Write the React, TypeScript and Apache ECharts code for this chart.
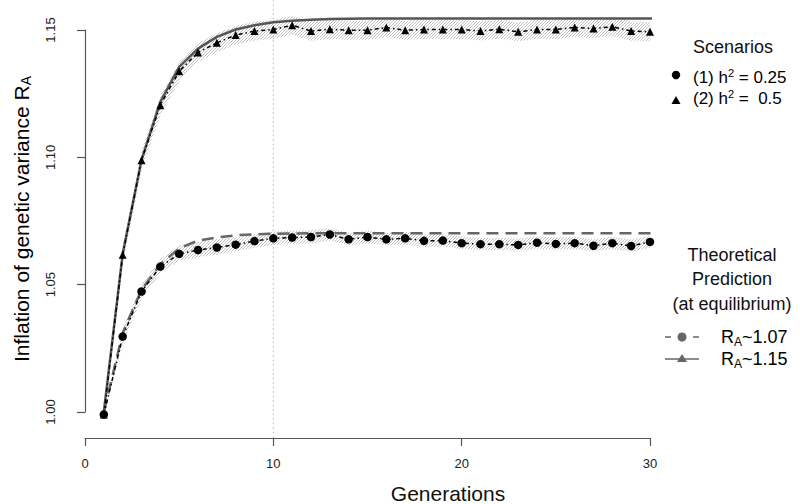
import React, { useEffect, useRef } from 'react';
import * as echarts from 'echarts';

const generations = [1, 2, 3, 4, 5, 6, 7, 8, 9, 10, 11, 12, 13, 14, 15, 16, 17, 18, 19, 20, 21, 22, 23, 24, 25, 26, 27, 28, 29, 30];
const theoryGenerations = [1, 2, 3, 4, 5, 6, 7, 8, 9, 10, 11, 12, 13, 14, 15, 16, 17, 18, 19, 20, 21, 22, 23, 24, 25, 26, 27, 28, 29, 30, 31];

// Scenario (1) h2 = 0.25 (circles)
const scen1Mean = [0.999, 1.0296, 1.0473, 1.0571, 1.0621, 1.0636, 1.0646, 1.0657, 1.0671, 1.0682, 1.0685, 1.0687, 1.0697, 1.0678, 1.0687, 1.0678, 1.0682, 1.0672, 1.0673, 1.0663, 1.0659, 1.0659, 1.0656, 1.0665, 1.066, 1.0663, 1.0653, 1.0663, 1.0652, 1.0668];
const scen1Low = [0.999, 1.027, 1.0448, 1.0545, 1.0595, 1.0608, 1.0618, 1.063, 1.0645, 1.0656, 1.066, 1.0662, 1.0672, 1.0655, 1.0662, 1.0655, 1.0658, 1.0648, 1.065, 1.064, 1.0636, 1.0636, 1.0633, 1.0642, 1.0637, 1.064, 1.063, 1.064, 1.0629, 1.0645];
const scen1High = [0.999, 1.0325, 1.0502, 1.0602, 1.0655, 1.0668, 1.0678, 1.0687, 1.0699, 1.0709, 1.0712, 1.0714, 1.0722, 1.0703, 1.0712, 1.0703, 1.0707, 1.0697, 1.0698, 1.0688, 1.0684, 1.0684, 1.0681, 1.069, 1.0685, 1.0688, 1.0678, 1.0688, 1.0677, 1.0692];

// Scenario (2) h2 = 0.5 (triangles)
const scen2Mean = [0.999, 1.0617, 1.0989, 1.1205, 1.1338, 1.1412, 1.145, 1.148, 1.1496, 1.1502, 1.1519, 1.1496, 1.1503, 1.1499, 1.1499, 1.151, 1.1499, 1.1502, 1.1502, 1.1502, 1.1496, 1.1503, 1.1493, 1.1502, 1.1502, 1.151, 1.1506, 1.1513, 1.1496, 1.1493];
const scen2Low = [0.999, 1.058, 1.0953, 1.1168, 1.13, 1.1375, 1.1413, 1.1443, 1.1459, 1.1465, 1.1482, 1.1457, 1.1466, 1.1462, 1.1462, 1.1473, 1.1462, 1.1465, 1.1465, 1.1465, 1.1459, 1.1466, 1.1456, 1.1465, 1.1465, 1.1473, 1.1469, 1.1476, 1.1459, 1.1456];
const scen2High = [0.999, 1.0654, 1.1026, 1.1242, 1.1375, 1.1449, 1.1487, 1.1517, 1.1533, 1.1539, 1.1556, 1.1533, 1.154, 1.1536, 1.1536, 1.1547, 1.1536, 1.1539, 1.1539, 1.1539, 1.1533, 1.154, 1.153, 1.1539, 1.1539, 1.1547, 1.1543, 1.155, 1.1533, 1.153];

// Theoretical predictions
const theory1 = [1.0, 1.031, 1.048, 1.058, 1.0643, 1.0673, 1.0685, 1.0694, 1.0698, 1.07, 1.0701, 1.0702, 1.0702, 1.0702, 1.0702, 1.0702, 1.0702, 1.0702, 1.0702, 1.0702, 1.0702, 1.0702, 1.0702, 1.0702, 1.0702, 1.0702, 1.0702, 1.0702, 1.0702, 1.0702, 1.0702];
const theory2 = [1.0, 1.062, 1.099, 1.1218, 1.1355, 1.1427, 1.1473, 1.1502, 1.1519, 1.153, 1.1536, 1.154, 1.1543, 1.1544, 1.1545, 1.1545, 1.1545, 1.1545, 1.1545, 1.1545, 1.1545, 1.1545, 1.1545, 1.1545, 1.1545, 1.1545, 1.1545, 1.1545, 1.1545, 1.1545, 1.1545];

const refLineX = [10, 10];
const refLineY = [0.9899, 1.1617];

const xTicks = { min: 0, max: 30, interval: 10 };
const yTicks = { min: 1.0, max: 1.15, interval: 0.05 };

const FONT = '"Liberation Sans", Arial, Helvetica, sans-serif';

export default function App() {
  const ref = useRef<HTMLDivElement>(null);
  useEffect(() => {
    if (!ref.current) return;
    const chart = echarts.init(ref.current, null, { renderer: 'svg' });

    const canvas = document.createElement('canvas');
    canvas.width = 3;
    canvas.height = 3;
    const ctx = canvas.getContext('2d');
    if (ctx) {
      ctx.fillStyle = 'rgba(255,255,255,0)';
      ctx.fillRect(0, 0, 3, 3);
      ctx.fillStyle = '#c2c2c2';
      // diagonal "/" hatch, one pixel per row
      ctx.fillRect(2, 0, 1, 1);
      ctx.fillRect(1, 1, 1, 1);
      ctx.fillRect(0, 2, 1, 1);
    }
    const hatch: any = { image: canvas, repeat: 'repeat' };

    const pair = (xs: number[], ys: number[]) => xs.map((x, i) => [x, ys[i]]);

    const bandSeries = (lo: number[], hi: number[]) => ({
      type: 'custom',
      data: generations.map((g, i) => [g, lo[i], hi[i]]),
      clip: false,
      silent: true,
      z: 1,
      renderItem: (params: any, api: any) => {
        const i = params.dataIndex;
        if (i >= generations.length - 1) return null;
        const a = api.coord([generations[i], lo[i]]);
        const b = api.coord([generations[i + 1], lo[i + 1]]);
        const c = api.coord([generations[i + 1], hi[i + 1]]);
        const d = api.coord([generations[i], hi[i]]);
        return {
          type: 'polygon',
          shape: { points: [a, [b[0] + 0.4, b[1]], [c[0] + 0.4, c[1]], d] },
          style: { fill: hatch, stroke: null },
        };
      },
    });

    const sub = (fs: number) => ({ fontSize: fs, fontFamily: FONT, color: '#111', verticalAlign: 'bottom' });

    chart.setOption({
      animation: false,
      backgroundColor: '#ffffff',
      grid: { left: 85, top: 30, width: 565, height: 382, containLabel: false },
      xAxis: {
        type: 'value', ...xTicks, offset: 26,
        axisLine: { show: true, lineStyle: { color: '#555', width: 1.2 } },
        axisTick: { show: true, length: 8, lineStyle: { color: '#555', width: 1.2 } },
        axisLabel: { fontSize: 13, color: '#222', fontFamily: FONT, margin: 19 },
        splitLine: { show: false },
      },
      yAxis: {
        type: 'value', ...yTicks, offset: 8,
        axisLine: { show: true, lineStyle: { color: '#555', width: 1.2 } },
        axisTick: { show: true, length: 8, lineStyle: { color: '#555', width: 1.2 } },
        axisLabel: {
          fontSize: 13, color: '#222', fontFamily: FONT, margin: 20, rotate: 90,
          formatter: (v: number) => v.toFixed(2),
        },
        splitLine: { show: false },
      },
      series: [
        {
          type: 'line', data: pair(refLineX, refLineY), symbol: 'none', clip: false, silent: true,
          lineStyle: { color: '#b4b4b4', width: 1, type: [1.5, 3] }, z: 0,
        },
        bandSeries(scen1Low, scen1High),
        bandSeries(scen2Low, scen2High),
        {
          type: 'line', name: 'theory1', data: pair(theoryGenerations, theory1), symbol: 'none', clip: false,
          lineStyle: { color: '#666', width: 2.5, type: [12, 7] }, z: 3,
        },
        {
          type: 'line', name: 'theory2', data: pair(theoryGenerations, theory2), symbol: 'none', clip: false,
          lineStyle: { color: '#555', width: 2.5 }, z: 3,
        },
        {
          type: 'line', name: 'scen1', data: pair(generations, scen1Mean), symbol: 'circle', symbolSize: 8.5,
          clip: false, itemStyle: { color: '#000' }, lineStyle: { color: '#000', width: 1.5, type: [4, 3, 1.5, 3] }, z: 4,
        },
        {
          type: 'line', name: 'scen2', data: pair(generations, scen2Mean), symbol: 'triangle', symbolSize: 8,
          clip: false, itemStyle: { color: '#000' }, lineStyle: { color: '#000', width: 1.5, type: [4, 3, 1.5, 3] }, z: 4,
        },
      ],
      graphic: [
        {
          type: 'text', x: 21, y: 219, rotation: Math.PI / 2,
          style: {
            text: '{m|Inflation of genetic variance R}{s|A}', align: 'center', verticalAlign: 'middle',
            rich: { m: { fontSize: 21, fontFamily: FONT, color: '#111', lineHeight: 24 }, s: { ...sub(14), lineHeight: 14 } },
          },
        },
        {
          type: 'text', x: 448, y: 493,
          style: { text: 'Generations', font: `21px ${FONT}`, fill: '#111', align: 'center', verticalAlign: 'middle' },
        },
        {
          type: 'text', x: 733, y: 47,
          style: { text: 'Scenarios', font: `18px ${FONT}`, fill: '#111', align: 'center', verticalAlign: 'middle' },
        },
        { type: 'circle', shape: { cx: 676, cy: 75, r: 4.2 }, style: { fill: '#000' } },
        {
          type: 'text', x: 693, y: 77,
          style: {
            text: '{m|(1) h}{p|2}{m| = 0.25}', align: 'left', verticalAlign: 'middle',
            rich: {
              m: { fontSize: 17, fontFamily: FONT, color: '#111', lineHeight: 20 },
              p: { fontSize: 11, fontFamily: FONT, color: '#111', lineHeight: 12, verticalAlign: 'top' },
            },
          },
        },
        { type: 'polygon', shape: { points: [[676, 96], [680.5, 104], [671.5, 104]] }, style: { fill: '#000' } },
        {
          type: 'text', x: 693, y: 98,
          style: {
            text: '{m|(2) h}{p|2}{m| =  0.5}', align: 'left', verticalAlign: 'middle',
            rich: {
              m: { fontSize: 17, fontFamily: FONT, color: '#111', lineHeight: 20 },
              p: { fontSize: 11, fontFamily: FONT, color: '#111', lineHeight: 12, verticalAlign: 'top' },
            },
          },
        },
        {
          type: 'text', x: 732, y: 279,
          style: {
            text: 'Theoretical\nPrediction\n(at equilibrium)', font: `18px ${FONT}`, lineHeight: 24.5,
            fill: '#111', align: 'center', verticalAlign: 'middle',
          },
        },
        { type: 'line', shape: { x1: 665, y1: 337, x2: 699, y2: 337 }, style: { stroke: '#666', lineWidth: 1.5, lineDash: [6, 8] } },
        { type: 'circle', shape: { cx: 682, cy: 337, r: 4.5 }, style: { fill: '#666' } },
        {
          type: 'text', x: 721, y: 337,
          style: {
            text: '{m|R}{s|A}{m|~1.07}', align: 'left', verticalAlign: 'middle',
            rich: { m: { fontSize: 18, fontFamily: FONT, color: '#111', lineHeight: 22 }, s: { ...sub(12), lineHeight: 13 } },
          },
        },
        { type: 'line', shape: { x1: 665, y1: 359, x2: 699, y2: 359 }, style: { stroke: '#666', lineWidth: 1.5 } },
        { type: 'polygon', shape: { points: [[682, 354], [687, 362], [677, 362]] }, style: { fill: '#666' } },
        {
          type: 'text', x: 721, y: 359,
          style: {
            text: '{m|R}{s|A}{m|~1.15}', align: 'left', verticalAlign: 'middle',
            rich: { m: { fontSize: 18, fontFamily: FONT, color: '#111', lineHeight: 22 }, s: { ...sub(12), lineHeight: 13 } },
          },
        },
      ],
    });
    return () => chart.dispose();
  }, []);
  return <div ref={ref} style={{ position: 'fixed', left: 0, top: 0, width: 800, height: 504 }} />;
}
